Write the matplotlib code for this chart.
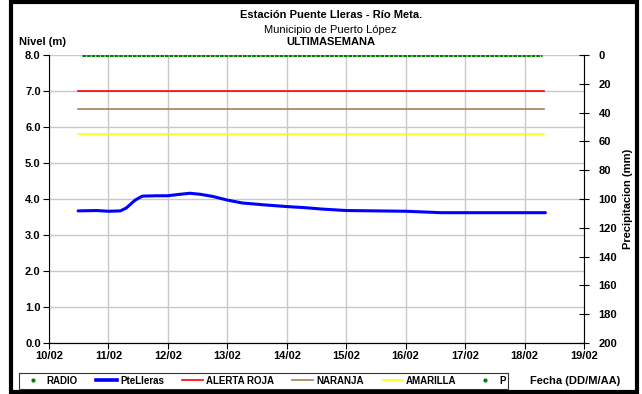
import numpy as np
import matplotlib.pyplot as plt
from matplotlib.lines import Line2D
from matplotlib.patches import Rectangle

plt.rcParams['font.family'] = ['Liberation Sans', 'DejaVu Sans']

# days of February (fractional) and river level in metres
dias = [10.49, 10.8, 11.0, 11.2, 11.3, 11.45, 11.57, 11.8, 11.99, 12.2, 12.37,
        12.55, 12.76, 13.0, 13.25, 13.6, 14.0, 14.3, 14.6, 15.0, 15.5, 16.0,
        16.6, 17.0, 17.5, 18.0, 18.35]
nivel = [3.67, 3.68, 3.66, 3.67, 3.75, 3.97, 4.08, 4.09, 4.09, 4.13, 4.16,
         4.13, 4.07, 3.97, 3.89, 3.84, 3.79, 3.76, 3.72, 3.68, 3.67, 3.66,
         3.62, 3.62, 3.62, 3.62, 3.62]

umbral_dias = [10.49, 18.33]
alerta_roja = [7.0, 7.0]
naranja = [6.5, 6.5]
amarilla = [5.8, 5.8]

p_dias = [10.55, 18.3]
p_mm = [0, 0]

xticks = np.arange(10, 20)
xlabels = ['%02d/02' % d for d in xticks]

fig = plt.figure(figsize=(6.42, 3.94), dpi=100)
ax = fig.add_axes([0.0763, 0.1294, 0.8334, 0.731])

ax.plot(umbral_dias, alerta_roja, color='#ff0000', lw=1.2)
ax.plot(umbral_dias, naranja, color='#a87f4f', lw=1.2)
ax.plot(umbral_dias, amarilla, color='#ffff00', lw=1.2)
ax.plot(dias, nivel, color='#0000ff', lw=2.2, solid_capstyle='round')

ax.set_xlim(10, 19)
ax.set_ylim(0, 8)
ax.set_xticks(xticks)
ax.set_xticklabels(xlabels, fontweight='bold', fontsize=8)
ax.set_yticks(np.arange(0, 8.1, 1))
ax.set_yticklabels(['%.1f' % v for v in np.arange(0, 8.1, 1)], fontweight='bold', fontsize=8)
ax.grid(True, color='#c8c8c8', lw=1)
ax.set_axisbelow(True)
ax.tick_params(length=4, width=0.8, pad=2)
ax.spines['top'].set_visible(False)
ax.spines['right'].set_visible(False)

ax2 = ax.twinx()
ax2.plot(p_dias, p_mm, color='#008000', lw=2.2, linestyle=(0, (1.2, 0.3)))
ax2.set_ylim(200, 0)
ax2.set_yticks(np.arange(0, 201, 20))
ax2.set_yticklabels([str(v) for v in range(0, 201, 20)], fontweight='bold', fontsize=8)
ax2.tick_params(direction='inout', length=7, width=0.8, pad=7)
ax2.spines['top'].set_visible(False)
ax2.spines['left'].set_visible(False)
ax2.set_ylabel('Precipitacion (mm)', fontweight='bold', fontsize=8, labelpad=4)

fig.text(0.515, 0.962, 'Estación Puente Lleras - Río Meta.', ha='center', va='center',
         fontweight='bold', fontsize=8)
fig.text(0.515, 0.924, 'Municipio de Puerto López', ha='center', va='center', fontsize=8)
fig.text(0.515, 0.893, 'ULTIMASEMANA', ha='center', va='center', fontweight='bold', fontsize=8)
fig.text(0.03, 0.893, 'Nivel (m)', ha='left', va='center', fontweight='bold', fontsize=8)
fig.text(0.826, 0.033, 'Fecha (DD/M/AA)', ha='left', va='center', fontweight='bold', fontsize=8)

handles = [
    Line2D([], [], color='#008000', marker='o', ms=2, ls='none'),
    Line2D([], [], color='#0000ff', lw=2.6),
    Line2D([], [], color='#ff0000', lw=1.2),
    Line2D([], [], color='#a87f4f', lw=1.2),
    Line2D([], [], color='#ffff00', lw=1.2),
    Line2D([], [], color='#008000', marker='o', ms=2, ls='none'),
]
labels = ['RADIO', 'PteLleras', 'ALERTA ROJA', 'NARANJA', 'AMARILLA', 'P']
leg = fig.legend(handles, labels, loc='center', bbox_to_anchor=(0.411, 0.034), ncol=6,
                 frameon=True, fancybox=False, edgecolor='black', handlelength=2.2,
                 handletextpad=0.3, columnspacing=1.85, borderpad=0.3,
                 prop={'weight': 'bold', 'size': 7})
leg.get_frame().set_linewidth(0.8)

fig.patches.append(Rectangle((11 / 642, 2 / 394), 626 / 642, 390 / 394,
                             transform=fig.transFigure, fill=False,
                             edgecolor='black', lw=3))

fig.savefig('out.png', dpi=100)
